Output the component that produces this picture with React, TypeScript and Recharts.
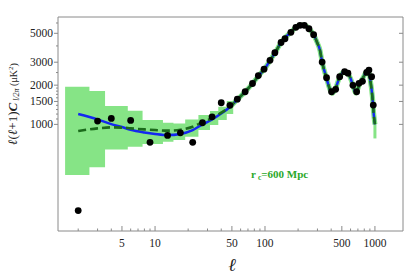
import { ComposedChart, Area, Line, Scatter, XAxis, YAxis } from 'recharts'

// multipoles of the binned data points and their band powers (μK²)
const dataL = [2, 3, 4, 6, 9, 13, 17, 22, 27, 33, 40, 48, 56, 66, 77, 87, 98, 111, 123, 140, 152, 172, 191, 208, 228, 251, 277, 331, 363, 403, 439, 478, 530, 568, 631, 682, 716, 770, 841, 882, 933, 966]
const dataV = [218, 1060, 1112, 1073, 728, 823, 862, 728, 1029, 1144, 1466, 1400, 1560, 1780, 2060, 2370, 2655, 3100, 3550, 4250, 4540, 5090, 5560, 5760, 5760, 5420, 4880, 3010, 2280, 1780, 1857, 2322, 2537, 2470, 1995, 1780, 2065, 2140, 2507, 2610, 2322, 1406]

// low-ell part of the two model curves
const lowL = [2, 3, 4, 5, 6, 8, 10, 13, 17, 22, 27, 33, 40, 48]
const blueLow = [1200, 1093, 1005, 955, 910, 868, 845, 828, 845, 905, 1000, 1090, 1210, 1360]
const dashLow = [889, 932, 948, 945, 932, 915, 905, 895, 910, 960, 1040, 1115, 1230, 1370]

// high-ell part, shared by both models
const highL = [56, 66, 77, 88, 100, 112, 125, 140, 155, 172, 190, 208, 228, 252, 277, 300, 316, 331, 363, 390, 410, 440, 478, 517, 568, 631, 668, 731, 784, 830, 870, 910, 950, 975, 1000]
const highV = [1550, 1780, 2060, 2380, 2690, 3120, 3600, 4250, 4700, 5100, 5550, 5760, 5790, 5420, 4880, 4200, 3720, 3010, 2260, 1850, 1730, 1900, 2320, 2500, 2450, 2000, 1740, 2080, 2300, 2520, 2570, 2150, 1600, 1200, 1000]

// cosmic variance bins at low ell
const binEdges = [1.52, 2.53, 3.51, 5.65, 7.7, 11.8, 14.7, 18.8, 24.8, 31.6, 37.6, 44.9, 51.4]
const binLo = [408, 468, 643, 673, 706, 735, 758, 803, 904, 988, 1079, 1200]
const binHi = [1945, 1802, 1382, 1272, 1079, 1029, 1018, 1092, 1179, 1265, 1365, 1510]
const bandTailL = [1000, 1000]
const bandTailV = [1000, 780]

const xMajor = [5, 10, 50, 100, 500, 1000]
const xMinor = [2, 3, 4, 6, 7, 8, 9, 20, 30, 40, 60, 70, 80, 90, 200, 300, 400, 600, 700, 800, 900]
const yMajor = [1000, 1500, 2000, 3000, 5000]
const yMinor = [1100, 1200, 1300, 1400, 1600, 1700, 1800, 1900, 2500, 4000, 6000]

const points = dataL.map((l, i) => ({ l, v: dataV[i] }))
const blueCurve = [...lowL.map((l, i) => ({ l, v: blueLow[i] })), ...highL.map((l, i) => ({ l, v: highV[i] }))]
const dashCurve = [...lowL.map((l, i) => ({ l, v: dashLow[i] })), ...highL.map((l, i) => ({ l, v: highV[i] }))]
const bandSteps = binLo.flatMap((lo, i) => [
  { l: binEdges[i], v: [lo, binHi[i]] },
  { l: binEdges[i + 1], v: [lo, binHi[i]] },
])
const bandLine = [{ l: 46, v: 1300 }, ...highL.map((l, i) => ({ l, v: highV[i] }))]
const bandTail = bandTailL.map((l, i) => ({ l, v: bandTailV[i] }))

const FRAME = '#8a8a8a'
const SERIF = '"Liberation Serif", "DejaVu Serif", serif'
const X_DOMAIN = [1.31, 1800]
const Y_DOMAIN = [152, 6670]

function BottomTick(props: any) {
  const { x, y, payload } = props
  const major = xMajor.includes(payload.value)
  return (
    <g>
      <line x1={x} x2={x} y1={y} y2={y - (major ? 5 : 2.5)} stroke={FRAME} />
      {major && (
        <text x={x} y={y + 15.5} textAnchor="middle" fontFamily={SERIF} fontSize={11.5} fill="#222">
          {payload.value}
        </text>
      )}
    </g>
  )
}

function TopTick(props: any) {
  const { x, y, payload } = props
  const major = xMajor.includes(payload.value)
  return <line x1={x} x2={x} y1={y} y2={y + (major ? 4 : 2)} stroke={FRAME} />
}

function LeftTick(props: any) {
  const { x, y, payload } = props
  const major = yMajor.includes(payload.value)
  return (
    <g>
      <line x1={x} x2={x - (major ? 4 : 2)} y1={y} y2={y} stroke={FRAME} />
      {major && (
        <text x={x - 5} y={y + 4} textAnchor="end" fontFamily={SERIF} fontSize={11.5} fill="#222">
          {payload.value}
        </text>
      )}
    </g>
  )
}

function RightTick(props: any) {
  const { x, y, payload } = props
  const major = yMajor.includes(payload.value)
  return <line x1={x} x2={x - (major ? 4 : 2)} y1={y} y2={y} stroke={FRAME} />
}

const Dot = (props: any) => <circle cx={props.cx} cy={props.cy} r={3.4} fill="#000" />

export default function App() {
  return (
    <div style={{ position: 'absolute', left: 0, top: 0, width: 411, height: 277, background: '#fff' }}>
      <ComposedChart width={411} height={277} margin={{ top: 16, right: 7, bottom: 16, left: 8 }}>
        <XAxis
          xAxisId="b"
          dataKey="l"
          type="number"
          scale="log"
          domain={X_DOMAIN}
          allowDataOverflow
          ticks={[...xMinor, ...xMajor]}
          interval={0}
          tick={<BottomTick />}
          tickLine={false}
          tickSize={0}
          tickMargin={0}
          height={30}
          axisLine={{ stroke: FRAME }}
        />
        <XAxis
          xAxisId="t"
          orientation="top"
          type="number"
          scale="log"
          domain={X_DOMAIN}
          allowDataOverflow
          ticks={[...xMinor, ...xMajor]}
          interval={0}
          tick={<TopTick />}
          tickLine={false}
          tickSize={0}
          tickMargin={0}
          height={1}
          axisLine={{ stroke: FRAME }}
        />
        <YAxis
          yAxisId="l"
          type="number"
          scale="log"
          domain={Y_DOMAIN}
          allowDataOverflow
          ticks={[...yMinor, ...yMajor]}
          interval={0}
          tick={<LeftTick />}
          tickLine={false}
          tickSize={0}
          tickMargin={0}
          width={50}
          axisLine={{ stroke: FRAME }}
        />
        <YAxis
          yAxisId="r"
          orientation="right"
          type="number"
          scale="log"
          domain={Y_DOMAIN}
          allowDataOverflow
          ticks={yMajor}
          interval={0}
          tick={<RightTick />}
          tickLine={false}
          tickSize={0}
          tickMargin={0}
          width={1}
          axisLine={{ stroke: FRAME }}
        />
        <Area
          xAxisId="b"
          yAxisId="l"
          data={bandSteps}
          dataKey="v"
          type="linear"
          stroke="none"
          fill="#86e486"
          fillOpacity={1}
          isAnimationActive={false}
        />
        <Line xAxisId="b" yAxisId="l" data={bandLine} dataKey="v" type="monotone" stroke="#86e486" strokeWidth={5} dot={false} isAnimationActive={false} />
        <Line xAxisId="b" yAxisId="l" data={bandTail} dataKey="v" type="linear" stroke="#86e486" strokeWidth={3} dot={false} isAnimationActive={false} />
        <Line xAxisId="b" yAxisId="l" data={blueCurve} dataKey="v" type="monotone" stroke="#1428f0" strokeWidth={2.5} dot={false} isAnimationActive={false} />
        <Line
          xAxisId="b"
          yAxisId="l"
          data={dashCurve}
          dataKey="v"
          type="monotone"
          stroke="#1b6b1b"
          strokeWidth={2.6}
          strokeDasharray="8 4"
          dot={false}
          isAnimationActive={false}
        />
        <Scatter xAxisId="b" yAxisId="l" data={points} dataKey="v" shape={Dot} isAnimationActive={false} />
      </ComposedChart>
      <svg width={411} height={277} style={{ position: 'absolute', left: 0, top: 0, pointerEvents: 'none' }}>
        <text x={251} y={178} fontFamily={SERIF} fontWeight="bold" fontSize={11} fill="#2aa82a">
          r<tspan fontSize={7.5} dx={2} dy={2}>c</tspan>
          <tspan dy={-2}>=600 Mpc</tspan>
        </text>
        <text x={232} y={271} textAnchor="middle" fontFamily={SERIF} fontStyle="italic" fontSize={18} fill="#222">
          ℓ
        </text>
        <text transform="translate(17,104) rotate(-90)" textAnchor="middle" fontFamily={SERIF} fill="#222" fontSize={13}>
          <tspan fontStyle="italic">ℓ</tspan>(<tspan fontStyle="italic">ℓ</tspan>+1)
          <tspan fontStyle="italic" fontWeight="bold">C</tspan>
          <tspan fontSize={8} fontStyle="italic" dy={2}> l/2π</tspan>
          <tspan fontSize={10} dy={-2}> (μK</tspan>
          <tspan fontSize={7} dy={-4}>2</tspan>
          <tspan fontSize={10} dy={4}>)</tspan>
        </text>
      </svg>
    </div>
  )
}
